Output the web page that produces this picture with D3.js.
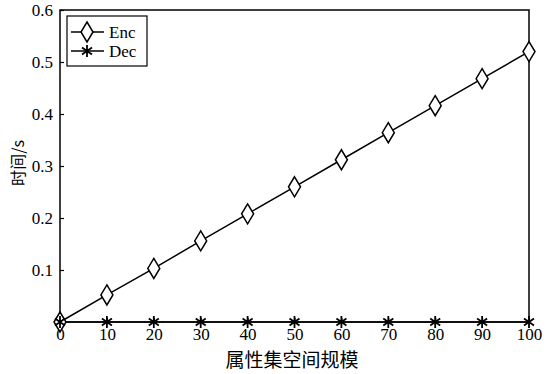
<!DOCTYPE html>
<html>
<head>
<meta charset="utf-8">
<script src="https://cdn.jsdelivr.net/npm/d3@7"></script>
<style>
body { margin: 0; background: #fff; }
</style>
</head>
<body>
<div id="chart"></div>
<script>
// data
var sizes = [0, 10, 20, 30, 40, 50, 60, 70, 80, 90, 100];
var enc_times = [0, 0.052, 0.103, 0.156, 0.208, 0.260, 0.312, 0.364, 0.416, 0.468, 0.520];
var dec_times = [0, 0, 0, 0, 0, 0, 0, 0, 0, 0, 0];
var x_ticks = [0, 10, 20, 30, 40, 50, 60, 70, 80, 90, 100];
var y_ticks = [0.1, 0.2, 0.3, 0.4, 0.5, 0.6];
var series_names = ["Enc", "Dec"];

var serif = "'Liberation Serif', 'Times New Roman', serif";
var cjk = "'Noto Sans CJK SC', sans-serif";

var width = 551, height = 374;
var margin = {left: 60, top: 10, right: 22, bottom: 52};
var plot_w = width - margin.left - margin.right;
var plot_h = height - margin.top - margin.bottom;

var xscale = d3.scaleLinear().domain([0, 100]).range([0, plot_w]);
var yscale = d3.scaleLinear().domain([0, 0.6]).range([plot_h, 0]);

var svg = d3.select("#chart").append("svg").attr("width", width).attr("height", height);
var g = svg.append("g").attr("transform", "translate(" + margin.left + "," + margin.top + ")");

// frame
g.append("rect").attr("width", plot_w).attr("height", plot_h)
    .attr("fill", "none").attr("stroke", "black").attr("stroke-width", 1.5);

// axes, ticks pointing inward
var xaxis = d3.axisBottom(xscale).tickValues(x_ticks).tickSizeInner(-4).tickSizeOuter(0).tickPadding(6);
var yaxis = d3.axisLeft(yscale).tickValues(y_ticks).tickSizeInner(-4).tickSizeOuter(0).tickPadding(7)
    .tickFormat(d3.format(".1f"));

var gx = g.append("g").attr("transform", "translate(0," + plot_h + ")").call(xaxis);
var gy = g.append("g").call(yaxis);
[gx, gy].forEach(function (ax) {
    ax.attr("font-family", serif).attr("font-size", 17);
    ax.select(".domain").remove();
    ax.selectAll("line").attr("stroke", "black").attr("stroke-width", 1.2);
    ax.selectAll("text").attr("fill", "black")
        .style("font-size", "17px").style("font-family", serif);
});
gx.selectAll("text").attr("dy", "0.68em");
gy.selectAll("text").attr("dy", "0.32em");

var line = d3.line().x(function (d) { return xscale(d[0]); }).y(function (d) { return yscale(d[1]); });
var enc_pts = sizes.map(function (s, i) { return [s, enc_times[i]]; });
var dec_pts = sizes.map(function (s, i) { return [s, dec_times[i]]; });

g.append("path").datum(dec_pts).attr("d", line).attr("fill", "none").attr("stroke", "black").attr("stroke-width", 1.5);
g.append("path").datum(enc_pts).attr("d", line).attr("fill", "none").attr("stroke", "black").attr("stroke-width", 1.5);

function diamond(sel) {
    sel.append("path").attr("d", "M0,-10L6,0L0,10L-6,0Z")
        .attr("fill", "white").attr("stroke", "black").attr("stroke-width", 1.5);
}
function star(sel) {
    sel.append("path").attr("d", "M0,-6L0,6M-5,-3.5L5,3.5M-5,3.5L5,-3.5")
        .attr("fill", "none").attr("stroke", "black").attr("stroke-width", 1.8);
}

g.selectAll(".enc").data(enc_pts).enter().append("g").attr("class", "enc")
    .attr("transform", function (d) { return "translate(" + xscale(d[0]) + "," + yscale(d[1]) + ")"; })
    .call(diamond);
g.selectAll(".dec").data(dec_pts).enter().append("g").attr("class", "dec")
    .attr("transform", function (d) { return "translate(" + xscale(d[0]) + "," + yscale(d[1]) + ")"; })
    .call(star);

// legend
var legend = g.append("g").attr("transform", "translate(7,6)");
legend.append("rect").attr("width", 80).attr("height", 50)
    .attr("fill", "white").attr("stroke", "black").attr("stroke-width", 1.2);
var items = legend.selectAll(".item").data(series_names).enter().append("g")
    .attr("transform", function (d, i) { return "translate(0," + (16 + i * 19) + ")"; });
items.append("line").attr("x1", 4).attr("x2", 37).attr("stroke", "black").attr("stroke-width", 1.5);
items.each(function (d, i) {
    var m = d3.select(this).append("g").attr("transform", "translate(20,0)");
    if (i === 0) diamond(m); else star(m);
});
items.append("text").attr("x", 42).attr("dy", "0.33em")
    .style("font-size", "17px").style("font-family", serif).text(function (d) { return d; });

// axis labels
svg.append("text").attr("x", 292).attr("y", 367)
    .attr("text-anchor", "middle").style("font-size", "19px")
    .style("font-family", cjk).text("属性集空间规模");
svg.append("text").attr("transform", "translate(24," + (margin.top + plot_h / 2 - 3) + ") rotate(-90)")
    .attr("text-anchor", "middle").style("font-size", "16px")
    .style("font-family", cjk)
    .text("时间/s");
</script>
</body>
</html>
